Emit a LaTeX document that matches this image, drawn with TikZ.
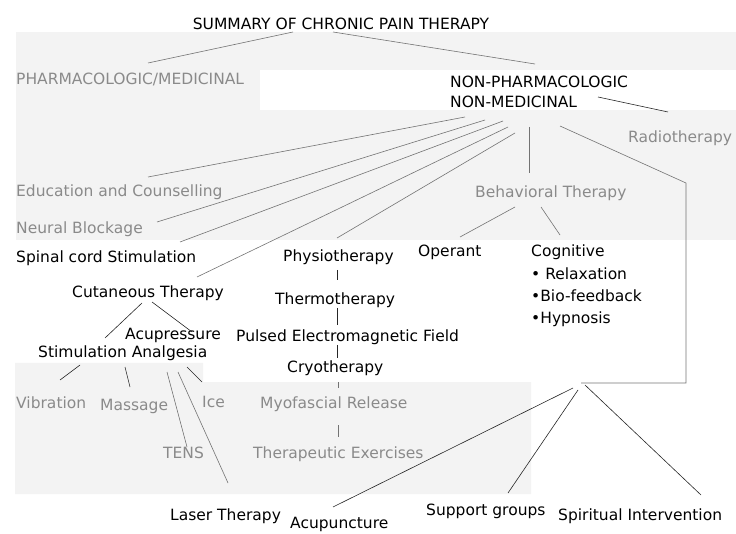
\documentclass[tikz,border=0pt]{standalone}
\usepackage{fontspec}
\setmainfont{DejaVu Sans}
\definecolor{scangrey}{HTML}{F3F3F3}
\definecolor{fadetext}{HTML}{8A8A8A}
\begin{document}
\begin{tikzpicture}[x=1pt, y=-1pt, font=\fontsize{15.5}{18}\selectfont,
    lbl/.style={inner sep=0pt, anchor=base west},
    glbl/.style={lbl, text=fadetext},
    link/.style={line width=0.6pt, black!85},
    glink/.style={line width=0.6pt, black!55}]
    \useasboundingbox (0,0) rectangle (736,534);
    % scanned page patches
    \fill[scangrey] (16,32) rectangle (736,240);
    \fill[white] (260,70) rectangle (736,110);
    \fill[scangrey] (15,363) -| (203,382) -| (531,494) -| cycle;

    \node[lbl, anchor=base] (title) at (341,30) {SUMMARY OF CHRONIC PAIN THERAPY};
    \node[glbl] (pharm) at (16,85) {PHARMACOLOGIC/MEDICINAL};
    \node[lbl] (nonpharm) at (450,88) {NON-PHARMACOLOGIC};
    \node[lbl] (nonmed) at (450,108) {NON-MEDICINAL};
    \node[glbl] (radio) at (628,143) {Radiotherapy};

    \node[glbl] (educ) at (16,197) {Education and Counselling};
    \node[glbl] (neural) at (16,234) {Neural Blockage};
    \node[lbl] (spinal) at (16,263) {Spinal cord Stimulation};
    \node[lbl] (cutan) at (72,298) {Cutaneous Therapy};
    \node[lbl] (acupr) at (125,340) {Acupressure};
    \node[lbl] (stimanal) at (38,358) {Stimulation Analgesia};
    \node[glbl] (vibr) at (16,408) {Vibration};
    \node[glbl] (massage) at (100,410) {Massage};
    \node[glbl] (ice) at (202,407) {Ice};
    \node[glbl] (tens) at (163,458) {TENS};
    \node[lbl] (laser) at (170,520) {Laser Therapy};

    \node[lbl] (physio) at (283,262) {Physiotherapy};
    \node[lbl] (thermo) at (275,305) {Thermotherapy};
    \node[lbl] (pemf) at (236,342) {Pulsed Electromagnetic Field};
    \node[lbl] (cryo) at (287,373) {Cryotherapy};
    \node[glbl] (myof) at (260,408) {Myofascial Release};
    \node[glbl] (therex) at (253,458) {Therapeutic Exercises};

    \node[glbl] (behav) at (475,198) {Behavioral Therapy};
    \node[lbl] (operant) at (418,257) {Operant};
    \node[lbl] (cognit) at (531,257) {Cognitive};
    \node[lbl] (relax) at (531,280) {\textbullet\ Relaxation};
    \node[lbl] (biofeed) at (531,302) {\textbullet Bio-feedback};
    \node[lbl] (hypno) at (531,324) {\textbullet Hypnosis};

    \coordinate (hub) at (581,383);
    \node[lbl] (acupunct) at (290,528) {Acupuncture};
    \node[lbl] (support) at (426,515) {Support groups};
    \node[lbl] (spirit) at (558,520) {Spiritual Intervention};

    % top split
    \draw[glink] ([shift={(-48,2)}]title.base) -- ([shift={(132,-22)}]pharm.base west);
    \draw[glink] ([shift={(-8,2)}]title.base) -- ([shift={(85,-24)}]nonpharm.base west);
    \draw[link] ([shift={(148,-11)}]nonmed.base west) -- ([shift={(40,-31)}]radio.base west);

    % fan under non-medicinal
    \draw[glink] ([shift={(15,9)}]nonmed.base west) -- ([shift={(132,-20)}]educ.base west);
    \draw[glink] ([shift={(35,12)}]nonmed.base west) -- ([shift={(141,-12)}]neural.base west);
    \draw[glink] ([shift={(53,13)}]nonmed.base west) -- ([shift={(164,-21)}]spinal.base west);
    \draw[glink] ([shift={(58,19)}]nonmed.base west) -- ([shift={(125,-21)}]cutan.base west);
    \draw[glink] ([shift={(65,25)}]nonmed.base west) -- ([shift={(54,-24)}]physio.base west);
    \draw[glink] ([shift={(79,19)}]nonmed.base west) -- ([shift={(54,-25)}]behav.base west);
    \draw[glink] ([shift={(110,18)}]nonmed.base west) -- ++(126,57) |- (hub);

    % behavioral
    \draw[glink] ([shift={(40,9)}]behav.base west) -- ([shift={(42,-20)}]operant.base west);
    \draw[glink] ([shift={(66,9)}]behav.base west) -- ([shift={(29,-22)}]cognit.base west);

    % cutaneous
    \draw[link] ([shift={(70,5)}]cutan.base west) -- ([shift={(67,-20)}]stimanal.base west);
    \draw[link] ([shift={(80,4)}]cutan.base west) -- ([shift={(67,-8)}]acupr.base west);
    \draw[link] ([shift={(42,7)}]stimanal.base west) -- ([shift={(44,-28)}]vibr.base west);
    \draw[link] ([shift={(87,9)}]stimanal.base west) -- ([shift={(30,-23)}]massage.base west);
    \draw[glink] ([shift={(129,14)}]stimanal.base west) -- ([shift={(24,-11)}]tens.base west);
    \draw[glink] ([shift={(140,14)}]stimanal.base west) -- ([shift={(58,-37)}]laser.base west);
    \draw[link] ([shift={(149,9)}]stimanal.base west) -- ([shift={(0,-25)}]ice.base west);

    % physiotherapy chain
    \draw[link] ([shift={(54,8)}]physio.base west) -- ([shift={(62,-25)}]thermo.base west);
    \draw[link] ([shift={(62,3)}]thermo.base west) -- ([shift={(101,-17)}]pemf.base west);
    \draw[link] ([shift={(101,3)}]pemf.base west) -- ([shift={(50,-15)}]cryo.base west);
    \draw[glink] ([shift={(51,9)}]cryo.base west) -- ([shift={(78,-20)}]myof.base west);
    \draw[glink] ([shift={(78,17)}]myof.base west) -- ([shift={(85,-21)}]therex.base west);

    % bottom group
    \draw[link] ([shift={(-8,5)}]hub) -- ([shift={(43,-21)}]acupunct.base west);
    \draw[link] ([shift={(-3,7)}]hub) -- ([shift={(82,-22)}]support.base west);
    \draw[link] ([shift={(4,2)}]hub) -- ([shift={(143,-25)}]spirit.base west);
\end{tikzpicture}
\end{document}
